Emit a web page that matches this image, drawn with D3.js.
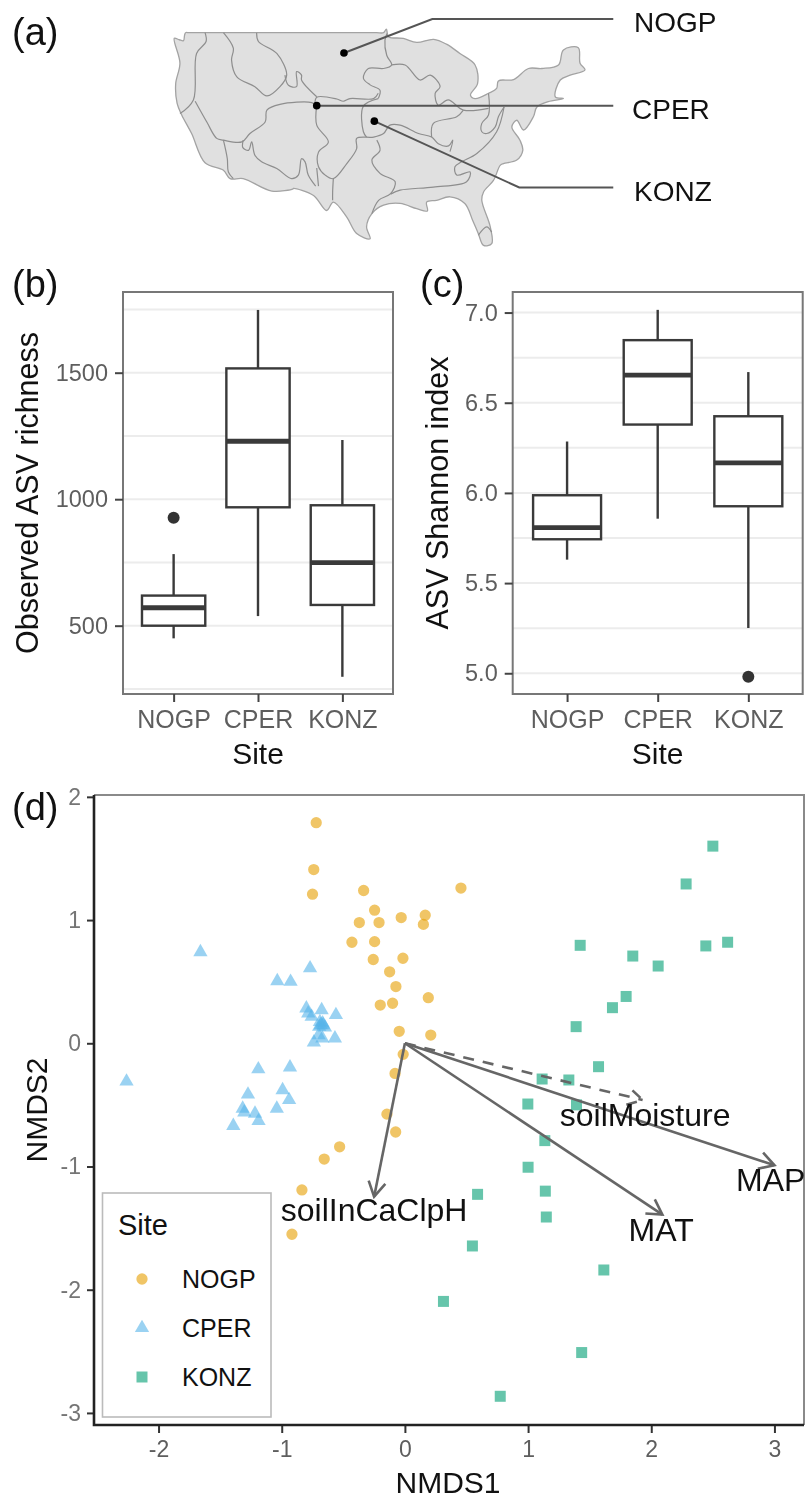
<!DOCTYPE html>
<html>
<head>
<meta charset="utf-8" />
<title>ASV richness and NMDS by site</title>
<script src="https://d3js.org/d3.v7.min.js"></script>
<style>
body { margin: 0; background: white; }
svg { display: block; filter: blur(0.55px); }
svg text { font-family: "Liberation Sans", Arial, sans-serif; }
</style>
</head>
<body>
<svg class="chart" width="805" height="1500"></svg>

<script>

/*******************
 * Data            *
 *******************/
var sites = ["NOGP", "CPER", "KONZ"];

// [lon, lat] of the sites, leader line bends and where the leader lines stop
var siteLocation = [[-101.1, 46.7], [-104.95, 40.75], [-96.8, 39.0]];
var siteBend = [[-88.6, 50.55], null, [-76.3, 31.5]];
var leaderEndLon = -63.0;

var usOutline = [
  [-125.1,48.36],[-124.4,48.2],[-123.8,48.1],[-123.65,48.7],[-123.5,49],[-123,49],[-121,49],[-118,49],[-110,49],[-100,49],[-96.5,49],[-95.5,49],[-95.1,49.4],[-94.8,48.55],[-92.7,48.35],[-90.8,47.9],
  [-88.4,48.25],[-86.6,47.7],[-84.7,46.65],[-82.55,45.35],[-82.2,43.25],[-83.2,41.95],[-82.55,41.55],[-80.65,42.15],
  [-79.5,42.7],[-79.25,43.55],[-77.1,43.7],[-75,44.95],[-73.1,44.95],[-70.75,45.35],[-70.05,47.05],[-67.95,47.3],
  [-67.7,45.55],[-67,44.8],[-69.1,44.2],[-70.5,43.65],[-71.2,41.75],[-70.05,41.55],[-72.2,41.2],[-73.8,40.6],
  [-74.3,39.5],[-75.7,38],[-76.65,39.1],[-77.35,38.35],[-76.2,36.85],[-75.8,35.7],[-76.65,34.6],[-78.55,34.2],
  [-79,34],[-79.95,32.3],[-81.35,31],[-81.6,30.05],[-80.4,27.05],[-80.2,25.15],[-81.35,24.95],[-82.1,26.3],
  [-82.9,27.8],[-84,29.7],[-86.1,30.45],[-88,30.05],[-89.4,29.85],[-89.3,28.85],[-90.8,29.1],[-93.15,29.7],
  [-95.5,29.5],[-97.15,28.55],[-97.9,27.05],[-97.4,25.7],[-99.3,26.3],[-100.7,28.15],[-102.6,29.85],[-103.55,28.9],
  [-105.4,30.6],[-108.25,31.4],[-108.3,31.35],[-111.3,31.1],[-115.35,32.5],[-117.2,32.5],[-118.15,33.45],[-120.75,34.3],[-122.65,37.6],
  [-124.05,39.7],[-124.7,41],[-124.9,43.25],[-124.3,45.55]
];

// drainage region boundaries inside the outline
var regionLines = [
  [[-120.75,49],[-120.6,48],[-121.95,46.65],[-122.4,41.4],[-124.3,39.85]],
  [[-122.15,41.25],[-120.5,38.9],[-119.1,37.05],[-118.15,36.85],[-115.55,36.65],[-114.4,37.6],[-112.25,38.9],[-112,40.25],[-110.15,40.9],[-105.65,41.1],[-104.95,40.75]],
  [[-105.2,40.8],[-104.95,41.7],[-102.1,41.5],[-101.2,41.25],[-100.25,41.55],[-96.9,41.55],[-96.25,42.15]],
  [[-118.15,36.85],[-117.6,34.75],[-117.45,33.25],[-116.75,32.5]],
  [[-115.35,36.85],[-115.4,36],[-114.6,35.7],[-114.15,36.65],[-113.7,35.15],[-112.75,34.4],[-110.6,33.65],[-108.5,32.5],[-107.55,32.9],[-107.1,34.75],[-106.6,34.4],[-106.15,32.9],[-105.1,31.65]],
  [[-104.95,33.7],[-104.7,31.65]],
  [[-104.95,40.75],[-104.95,38.55],[-103.3,36.65],[-104.7,35.5],[-104.7,33.85],[-103.75,32.9],[-102.6,32.5],[-100.7,34.2],[-99.3,35.9],[-99.3,37.05],[-96.9,37.2],[-95.5,37.6],[-94.6,38.55],[-93.15,38.55],[-90.55,37.6],[-88.7,37.2],[-87.75,36.45],[-86.3,36.2],[-85.7,36.85],[-86.1,35.55]],
  [[-102.6,32.5],[-102.7,31],[-102.7,30.05]],
  [[-96.25,41.55],[-98.35,40.7],[-98.35,37.8],[-97.9,37.2]],
  [[-96.25,41.55],[-96,42.5],[-97.4,43.1],[-98.35,43.85],[-97.65,44.95],[-95.5,44.95],[-94.35,45.35],[-95.05,46.45],[-95.3,48.15],[-95,48.9]],
  [[-94.35,45.35],[-92.45,45.35],[-90.35,43.65],[-88.9,44.2],[-87.5,42.9],[-88.2,42.15],[-87.75,40.8],[-86.35,41.4],[-84.2,40.25],[-80.65,40.45]],
  [[-84.2,40.25],[-85.15,39.5],[-88.45,38.75],[-88.7,37.2]],
  [[-96.45,36.85],[-96,35.7],[-97.15,34.6],[-96,33.1],[-93.85,32.15],[-94.5,30.8],[-96.2,30.05],[-97.15,28.55]],
  [[-94.5,30.75],[-93.15,31.2],[-88.45,31.55],[-83.75,32.15],[-83.25,33.25],[-85.15,32.9],[-85.4,33.85],[-84.45,34.4],[-82.3,35.35],[-79.5,37.8],[-78.45,40.6]],
  [[-80.65,42.15],[-80.65,39.7],[-81.6,38.75],[-81.6,37.8],[-80.9,37.6],[-79.7,38.35],[-79.25,39.5],[-78.45,40.6]],
  [[-82.1,26.1],[-80.9,27.05],[-80.2,26.45]],
  [[-118.15,49],[-116.75,47.25],[-117,45.9],[-116.25,44],[-113.7,42.9],[-112,41.85],[-110.15,42.9],[-109.2,44.2],[-110.6,46.65],[-113.2,48],[-113.45,49]],
  [[-109.45,44.2],[-108.95,43.05],[-107.8,42.9],[-107.8,44.6],[-107.1,44.2],[-107.1,43.65],[-104.95,41.75]]
];

// box stats per site: whisker low, q1, median, q3, whisker high
var richnessStats = [[450, 500, 571, 619, 783], [538, 968, 1229, 1517, 1748], [298, 582, 749, 976, 1234]];
var richnessOutliers = [[927], [], []];
var richnessTicks = [500, 1000, 1500];
var richnessGrid = [250, 500, 750, 1000, 1250, 1500, 1750];

var shannonStats = [[5.63, 5.743, 5.808, 5.987, 6.285], [5.857, 6.379, 6.653, 6.847, 7.015], [5.251, 5.926, 6.166, 6.425, 6.67]];
var shannonOutliers = [[], [], [4.98]];
var shannonTicks = [5.0, 5.5, 6.0, 6.5, 7.0];
var shannonGrid = [5, 5.25, 5.5, 5.75, 6, 6.25, 6.5, 6.75, 7];

// NMDS scores [NMDS1, NMDS2]
var nogpPoints = [
  [-0.72,1.79],[-0.74,1.41],[-0.75,1.21],[-0.335,1.24],[-0.246,1.08],[-0.37,0.98],[-0.21,0.98],[-0.03,1.02],
  [-0.43,0.82],[-0.246,0.825],[-0.257,0.68],[-0.016,0.69],[-0.124,0.58],[-0.073,0.46],[-0.2,0.31],[-0.1,0.325],
  [-0.046,0.097],[-0.014,-0.09],[-0.08,-0.245],[-0.146,-0.575],[-0.075,-0.72],[-0.53,-0.84],[-0.655,-0.94],
  [-0.836,-1.19],[-0.917,-1.55],[0.455,1.26],[0.165,1.04],[0.15,0.965],[0.19,0.37],[0.21,0.067]
];
var cperPoints = [
  [-1.66,0.74],[-1.036,0.505],[-0.928,0.5],[-0.77,0.61],[-0.8,0.284],[-0.785,0.243],[-0.757,0.216],[-0.676,0.27],
  [-0.56,0.23],[-0.69,0.173],[-0.668,0.162],[-0.684,0.148],[-0.663,0.148],[-0.696,0.135],[-0.649,0.13],[-0.7,0.067],
  [-0.67,0.04],[-0.568,0.04],[-0.739,0.008],[-1.19,-0.21],[-0.933,-0.195],[-2.26,-0.31],[-0.993,-0.38],[-1.274,-0.415],
  [-0.94,-0.46],[-1.317,-0.53],[-1.04,-0.53],[-1.304,-0.56],[-1.217,-0.57],[-1.188,-0.63],[-1.393,-0.67]
];
var konzPoints = [
  [2.5,1.6],[2.283,1.293],[2.62,0.82],[2.443,0.79],[1.423,0.795],[1.85,0.708],[2.056,0.627],[1.796,0.38],[1.685,0.289],
  [1.39,0.135],[1.572,-0.19],[1.114,-0.29],[1.331,-0.298],[0.998,-0.493],[1.393,-0.5],[1.136,-0.79],[1.0,-1.006],
  [1.14,-1.2],[0.59,-1.226],[1.148,-1.41],[0.548,-1.645],[1.615,-1.84],[0.313,-2.095],[1.435,-2.51],[0.774,-2.865]
];

var vectorNames = ["soilInCaClpH", "MAT", "MAP", "soilMoisture"];
var vectorEnds = [[-0.25,-1.245], [2.09,-1.39], [3.0,-0.99], [1.93,-0.46]];
var vectorDashed = [false, false, false, true];
var vectorLabels = [[-0.25,-1.35], [2.08,-1.51], [2.97,-1.11], [1.95,-0.58]];

var nmdsTicksX = [-2, -1, 0, 1, 2, 3];
var nmdsTicksY = [-3, -2, -1, 0, 1, 2];

/*******************
 * Shared styling  *
 *******************/
var svg = d3.select(".chart");
var siteColor = d3.scaleOrdinal().domain(sites).range(["#E69F00", "#56B4E9", "#009E73"]);
var siteShape = d3.scaleOrdinal().domain(sites).range([
  d3.symbol().type(d3.symbolCircle).size(100)(),
  d3.symbol().type(d3.symbolTriangle).size(88)(),
  d3.symbol().type(d3.symbolSquare).size(121)()
]);

function add_text(str, x, y, size, color, anchor) {
  return svg.append("text")
      .attr("x", x)
      .attr("y", y)
      .style("font-size", size + "px")
      .style("fill", color || "#111")
      .style("text-anchor", anchor || "start")
      .text(str);
}

function add_rotated_text(str, x, y, size) {
  return svg.append("text")
      .attr("transform", "translate(" + x + "," + y + ") rotate(-90)")
      .style("font-size", size + "px")
      .style("fill", "#111")
      .style("text-anchor", "middle")
      .text(str);
}

function style_axis(group, size, color) {
  group.select(".domain").remove();
  group.selectAll("line").attr("stroke", "#444").attr("stroke-width", 2);
  group.selectAll("text")
      .style("font-size", size + "px")
      .style("fill", color || "#5e5e5e");
}

/*******************
 * (a) Site map    *
 *******************/
function draw_map() {
  var lon = d3.scaleLinear().domain([-125, -67]).range([175, 585]);
  var lat = d3.scaleLinear().domain([49, 25]).range([32.67, 245]);
  var line = d3.line().x(function(d) { return lon(d[0]); }).y(function(d) { return lat(d[1]); });
  var smooth = d3.line()
      .x(function(d) { return lon(d[0]); })
      .y(function(d) { return lat(d[1]); })
      .curve(d3.curveCatmullRom.alpha(0.5));

  svg.append("path")
      .attr("d", smooth.curve(d3.curveCatmullRomClosed.alpha(0.5))(usOutline))
      .attr("fill", "#e0e0e0")
      .attr("stroke", "#a3a3a3")
      .attr("stroke-width", 1.3)
      .attr("stroke-linejoin", "round");

  smooth.curve(d3.curveCatmullRom.alpha(0.5));

  svg.selectAll(".region")
      .data(regionLines)
      .enter()
      .append("path")
      .attr("class", "region")
      .attr("d", smooth)
      .attr("fill", "none")
      .attr("stroke", "#8e8e8e")
      .attr("stroke-width", 1.2)
      .attr("stroke-linejoin", "round");

  sites.forEach(function(site, i) {
    var start = siteLocation[i];
    var bend = siteBend[i] || start;
    var leader = [start, bend, [leaderEndLon, bend[1]]];

    svg.append("path")
        .attr("d", line(leader))
        .attr("fill", "none")
        .attr("stroke", "#555")
        .attr("stroke-width", 2);

    svg.append("circle")
        .attr("cx", lon(start[0]))
        .attr("cy", lat(start[1]))
        .attr("r", 3.8)
        .attr("fill", "#000");

    add_text(site, site == "CPER" ? 632 : 634, lat(bend[1]) + 13.5, 28);
  });
}

/*******************
 * (b), (c) Boxes  *
 *******************/
function draw_boxplot(opts) {
  var left = opts.left, right = opts.right, top = 292, bottom = 694;
  var x = d3.scalePoint().domain(sites).range([left, right]).padding(0.6);
  var y = d3.scaleLinear().domain(opts.domain).range([bottom, top]);
  var boxWidth = x.step() * 0.75;

  svg.append("g")
      .selectAll("line")
      .data(opts.grid)
      .enter()
      .append("line")
      .attr("x1", left)
      .attr("x2", right)
      .attr("y1", y)
      .attr("y2", y)
      .attr("stroke", "#ececec")
      .attr("stroke-width", 2);

  var box = svg.append("g")
      .selectAll("g")
      .data(sites)
      .enter()
      .append("g");

  function stat(i) {
    return function(site) { return y(opts.stats[sites.indexOf(site)][i]); };
  }

  // whiskers, low and high
  box.append("line")
      .attr("x1", x).attr("x2", x)
      .attr("y1", stat(0)).attr("y2", stat(1))
      .attr("stroke", "#3a3a3a").attr("stroke-width", 2.4);
  box.append("line")
      .attr("x1", x).attr("x2", x)
      .attr("y1", stat(3)).attr("y2", stat(4))
      .attr("stroke", "#3a3a3a").attr("stroke-width", 2.4);

  box.append("rect")
      .attr("x", function(d) { return x(d) - boxWidth / 2; })
      .attr("width", boxWidth)
      .attr("y", stat(3))
      .attr("height", function(d) { return stat(1)(d) - stat(3)(d); })
      .attr("fill", "white")
      .attr("stroke", "#3a3a3a")
      .attr("stroke-width", 2.4);

  box.append("line")
      .attr("x1", function(d) { return x(d) - boxWidth / 2; })
      .attr("x2", function(d) { return x(d) + boxWidth / 2; })
      .attr("y1", stat(2)).attr("y2", stat(2))
      .attr("stroke", "#3a3a3a").attr("stroke-width", 4.8);

  box.selectAll("circle")
      .data(function(d) {
        return opts.outliers[sites.indexOf(d)].map(function(v) { return { site: d, value: v }; });
      })
      .enter()
      .append("circle")
      .attr("cx", function(d) { return x(d.site); })
      .attr("cy", function(d) { return y(d.value); })
      .attr("r", 6)
      .attr("fill", "#333");

  svg.append("rect")
      .attr("x", left)
      .attr("y", top)
      .attr("width", right - left)
      .attr("height", bottom - top)
      .attr("fill", "none")
      .attr("stroke", "#777")
      .attr("stroke-width", 2);

  var yAxis = svg.append("g")
      .attr("transform", "translate(" + left + ",0)")
      .call(d3.axisLeft(y).tickValues(opts.ticks).tickFormat(d3.format(opts.format)).tickSize(8).tickPadding(7));
  style_axis(yAxis, 23.5);

  var xAxis = svg.append("g")
      .attr("transform", "translate(0," + bottom + ")")
      .call(d3.axisBottom(x).tickSize(8).tickPadding(8));
  style_axis(xAxis, 25);

  add_text("Site", x("CPER"), 764, 30, "#111", "middle");
  add_rotated_text(opts.title, opts.titleX, 493, 30.5);
}

/*******************
 * (d) NMDS        *
 *******************/
function draw_nmds() {
  var left = 94, right = 804, top = 795, bottom = 1425;
  var x = d3.scaleLinear().domain([-2.524, 3.24]).range([left, right]);
  var y = d3.scaleLinear().domain([-3.098, 2.015]).range([bottom, top]);

  // top and right edges are lighter than the two axis lines
  svg.append("path")
      .attr("d", d3.line()([[left, top], [right, top], [right, bottom]]))
      .attr("fill", "none")
      .attr("stroke", "#8a8a8a")
      .attr("stroke-width", 2);

  [nogpPoints, cperPoints, konzPoints].forEach(function(points, i) {
    svg.append("g")
        .selectAll("path")
        .data(points)
        .enter()
        .append("path")
        .attr("d", siteShape(sites[i]))
        .attr("transform", function(d) { return "translate(" + x(d[0]) + "," + y(d[1]) + ")"; })
        .attr("fill", siteColor(sites[i]))
        .attr("fill-opacity", 0.6);
  });

  vectorEnds.forEach(function(end, i) {
    var x0 = x(0), y0 = y(0), x1 = x(end[0]), y1 = y(end[1]);
    var angle = Math.atan2(y1 - y0, x1 - x0);
    var headLength = 17, headAngle = Math.PI / 6;
    var dash = vectorDashed[i] ? "11,9" : null;

    svg.append("line")
        .attr("x1", x0).attr("y1", y0).attr("x2", x1).attr("y2", y1)
        .attr("stroke", "#666").attr("stroke-width", 2.6)
        .attr("stroke-dasharray", dash);

    svg.append("path")
        .attr("d", d3.line()([
          [x1 - headLength * Math.cos(angle - headAngle), y1 - headLength * Math.sin(angle - headAngle)],
          [x1, y1],
          [x1 - headLength * Math.cos(angle + headAngle), y1 - headLength * Math.sin(angle + headAngle)]
        ]))
        .attr("fill", "none")
        .attr("stroke", "#666")
        .attr("stroke-width", 2.6)
        .attr("stroke-dasharray", dash);

    add_text(vectorNames[i], x(vectorLabels[i][0]), y(vectorLabels[i][1]), 32, "#111", "middle")
        .attr("dy", ".35em");
  });

  var yAxis = svg.append("g")
      .attr("transform", "translate(" + left + ",0)")
      .call(d3.axisLeft(y).tickValues(nmdsTicksY).tickFormat(function(d) { return d; }).tickSize(7).tickPadding(6));
  style_axis(yAxis, 23, "#757575");
  yAxis.selectAll("line").attr("stroke", "#333");

  var xAxis = svg.append("g")
      .attr("transform", "translate(0," + bottom + ")")
      .call(d3.axisBottom(x).tickValues(nmdsTicksX).tickFormat(function(d) { return d; }).tickSize(8).tickPadding(8));
  style_axis(xAxis, 23, "#5e5e5e");
  xAxis.selectAll("line").attr("stroke", "#333");

  svg.append("path")
      .attr("d", d3.line()([[left, top], [left, bottom], [right, bottom]]))
      .attr("fill", "none")
      .attr("stroke", "#222")
      .attr("stroke-width", 2.6);

  add_text("NMDS1", 448, 1493, 30, "#111", "middle");
  add_rotated_text("NMDS2", 47, 1110, 30);

  // legend box sits on top of the panel
  svg.append("rect")
      .attr("x", 102.5)
      .attr("y", 1193)
      .attr("width", 168.5)
      .attr("height", 224)
      .attr("fill", "white")
      .attr("stroke", "#bbb")
      .attr("stroke-width", 1.6);

  add_text("Site", 118, 1235, 29);

  var legendY = d3.scalePoint().domain(sites).range([1279, 1377]);
  var legend = svg.append("g")
      .selectAll("g")
      .data(sites)
      .enter()
      .append("g")
      .attr("transform", function(d) { return "translate(142," + legendY(d) + ")"; });

  legend.append("path")
      .attr("d", siteShape)
      .attr("fill", siteColor)
      .attr("fill-opacity", 0.6);

  legend.append("text")
      .attr("x", 40)
      .attr("dy", ".35em")
      .style("font-size", "25px")
      .style("fill", "#111")
      .text(function(d) { return d; });
}

draw_map();

draw_boxplot({
  left: 123, right: 393,
  domain: [230, 1819],
  stats: richnessStats, outliers: richnessOutliers,
  ticks: richnessTicks, grid: richnessGrid, format: "d",
  title: "Observed ASV richness", titleX: 38
});

draw_boxplot({
  left: 512.7, right: 802.7,
  domain: [4.885, 7.114],
  stats: shannonStats, outliers: shannonOutliers,
  ticks: shannonTicks, grid: shannonGrid, format: ".1f",
  title: "ASV Shannon index", titleX: 447.7
});

draw_nmds();

add_text("(a)", 12, 45, 38);
add_text("(b)", 12, 297, 38);
add_text("(c)", 420, 297, 38);
add_text("(d)", 12, 820, 38);

</script>
</body>
</html>
